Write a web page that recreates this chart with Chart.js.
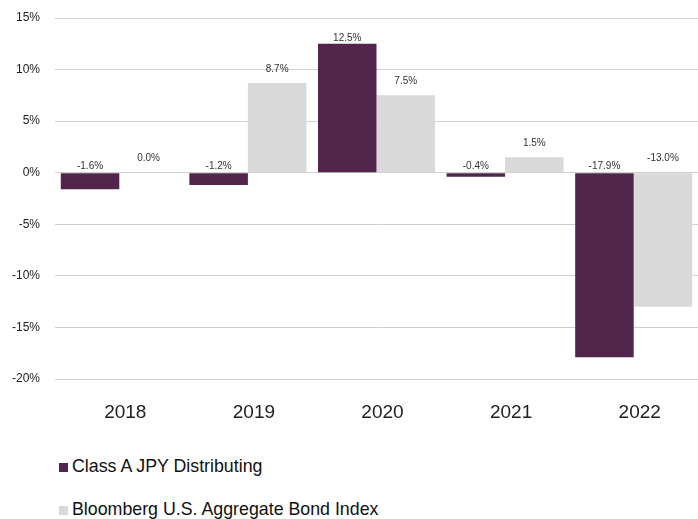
<!DOCTYPE html>
<html>
<head>
<meta charset="utf-8">
<script src="https://cdn.jsdelivr.net/npm/chart.js@4"></script>
<style>
  html, body { margin: 0; padding: 0; background: #fff; overflow: hidden; }
  body { width: 698px; height: 519px; font-family: "Liberation Sans", Arial, sans-serif; }
  #wrap { position: relative; width: 698px; height: 419px; }
  #legend { position: absolute; left: 59px; top: 453px; }
  .item { display: flex; align-items: center; height: 26px; margin-bottom: 17px; font-size: 17.8px; color: #111; }
  .box { width: 9px; height: 9px; margin-right: 4px; margin-top: 3px; }
</style>
</head>
<body>
<div id="wrap"><canvas id="chart" width="698" height="419"></canvas></div>
<div id="legend"></div>
<script>
const years = ['2018', '2019', '2020', '2021', '2022'];
const classA = [-1.6, -1.2, 12.5, -0.4, -17.9];
const bloomberg = [0.0, 8.7, 7.5, 1.5, -13.0];
const seriesNames = ['Class A JPY Distributing', 'Bloomberg U.S. Aggregate Bond Index'];
const seriesColors = ['#52264c', '#d9d9d9'];

// labels above each bar (negative bars get theirs above the zero line)
const barLabels = {
  id: 'barLabels',
  afterDatasetsDraw(chart) {
    const ctx = chart.ctx;
    const zero = chart.scales.y.getPixelForValue(0);
    ctx.save();
    ctx.font = '10px "Liberation Sans", Arial, sans-serif';
    ctx.fillStyle = '#333';
    ctx.textAlign = 'center';
    ctx.textBaseline = 'bottom';
    chart.data.datasets.forEach((ds, i) => {
      const gap = i === 0 ? 1 : 9;
      chart.getDatasetMeta(i).data.forEach((bar, j) => {
        const top = Math.min(bar.y, zero);
        ctx.fillText(ds.data[j].toFixed(1) + '%', bar.x, top - gap);
      });
    });
    ctx.restore();
  }
};

const chart = new Chart(document.getElementById('chart'), {
  type: 'bar',
  data: {
    labels: years,
    datasets: [
      { label: seriesNames[0], data: classA, backgroundColor: seriesColors[0] },
      { label: seriesNames[1], data: bloomberg, backgroundColor: seriesColors[1] },
    ],
  },
  options: {
    responsive: false,
    animation: false,
    devicePixelRatio: 1,
    layout: { padding: { top: 18, right: 0, left: 0, bottom: 0 } },
    datasets: { bar: { categoryPercentage: 0.91, barPercentage: 1.0 } },
    plugins: { legend: { display: false }, tooltip: { enabled: false } },
    scales: {
      x: {
        afterFit(scale) { scale.height = 40; },
        grid: { display: false, drawTicks: false },
        border: { display: false },
        ticks: {
          color: '#222',
          padding: 22,
          labelOffset: 6,
          font: { size: 19, family: '"Liberation Sans", Arial, sans-serif' },
        },
      },
      y: {
        min: -20,
        max: 15,
        afterFit(scale) {
          scale.width = 55;
          scale.paddingTop = 0;
          scale.paddingBottom = 0;
        },
        grid: { color: '#d0d0d0', drawTicks: false },
        border: { display: false },
        ticks: {
          stepSize: 5,
          padding: 15,
          color: '#222',
          font: { size: 12, family: '"Liberation Sans", Arial, sans-serif' },
          callback: (v) => v + '%',
        },
      },
    },
  },
  plugins: [barLabels],
});

// stacked legend under the chart
const legend = document.getElementById('legend');
seriesNames.forEach((name, i) => {
  const item = document.createElement('div');
  item.className = 'item';
  item.innerHTML = '<span class="box" style="background:' + seriesColors[i] + '"></span>' + name;
  legend.appendChild(item);
});
</script>
</body>
</html>
